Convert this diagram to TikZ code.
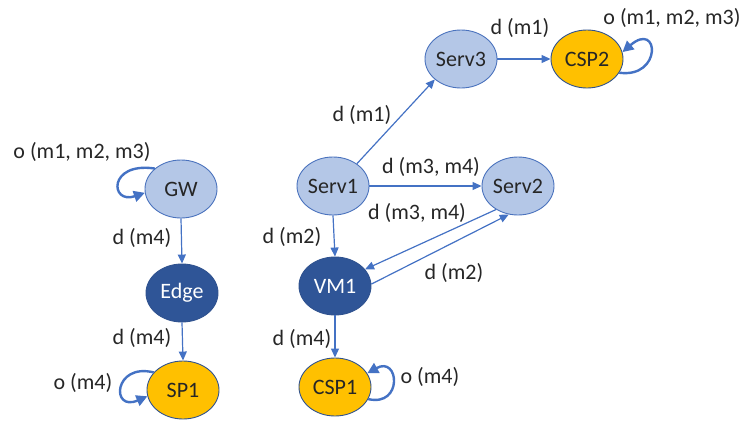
\documentclass[tikz,border=0pt]{standalone}
\usepackage{fontspec}
\setmainfont{Carlito}
\usetikzlibrary{shapes.geometric,arrows.meta}

\definecolor{lightfill}{HTML}{B4C7E7}
\definecolor{darkfill}{HTML}{2F5597}
\definecolor{goldfill}{HTML}{FFC000}
\definecolor{rim}{HTML}{4A72BD}
\definecolor{darkrim}{HTML}{2F528F}
\definecolor{arrowblue}{HTML}{4472C4}
\definecolor{ink}{HTML}{262626}

\tikzset{
  base/.style={ellipse, minimum width=72pt, minimum height=58pt, inner sep=0pt,
               line width=0.9pt, font=\fontsize{22}{26}\selectfont},
  lightnode/.style={base, fill=lightfill, draw=rim, text=ink},
  darknode/.style={base, fill=darkfill, draw=darkrim, text=white},
  goldnode/.style={base, fill=goldfill, draw=darkrim, text=ink},
  flow/.style={draw=arrowblue, line width=1.2pt, -{Triangle[length=9pt,width=8pt]}},
  selfloop/.style={draw=arrowblue, line width=2.4pt, -{Triangle[length=11pt,width=11pt]}},
  tag/.style={text=ink, font=\fontsize{22}{26}\selectfont, inner sep=0pt},
}

\begin{document}
\begin{tikzpicture}[x=1pt, y=-1pt]
  \useasboundingbox (0,0) rectangle (745,421);

  % devices on the left
  \node[lightnode] (GW)   at (181,189) {GW};
  \node[darknode]  (Edge) at (182,293) {Edge};
  \node[goldnode]  (SP1)  at (183,390) {SP1};

  % services and providers
  \node[lightnode] (Serv1) at (333,186) {Serv1};
  \node[lightnode] (Serv2) at (518,186) {Serv2};
  \node[lightnode] (Serv3) at (461,59)  {Serv3};
  \node[goldnode]  (CSP2)  at (587,59)  {CSP2};
  \node[darknode]  (VM1)   at (335,286) {VM1};
  \node[goldnode]  (CSP1)  at (335,387) {CSP1};

  % data flows
  \draw[flow] (GW.south) -- (Edge.north);
  \draw[flow] (Edge.south) -- (SP1.north);
  \draw[flow] (Serv1.east) -- (Serv2.west);
  \draw[flow] (Serv1.south) -- (VM1.north);
  \draw[flow] (Serv2.-133) -- (VM1.29);
  \draw[flow] (VM1.3) -- (Serv2.-108);
  \draw[flow] (Serv1.43) -- (Serv3.218);
  \draw[flow] (Serv3.east) -- (CSP2.west);
  \draw[flow] (VM1.south) -- (CSP1.north);

  % own-use loops
  \draw[selfloop] (GW.142) .. controls +(-47,-7) and +(-35,12) .. (GW.186);
  \draw[selfloop] (SP1.149) .. controls +(-40,-10) and +(-37,16) .. (SP1.190);
  \draw[selfloop] (CSP2.-23) .. controls +(43,6) and +(37,-32) .. (CSP2.11);
  \draw[selfloop] (CSP1.-20) .. controls +(35,8) and +(32,-18) .. (CSP1.23);

  % flow labels
  \node[tag] (tGW)   at (82,152)  {o (m1, m2, m3)};
  \node[tag] (tGE)   at (142,238) {d (m4)};
  \node[tag] (tES)   at (142,338) {d (m4)};
  \node[tag] (tSP)   at (83,383)  {o (m4)};
  \node[tag] (tS12)  at (431,167) {d (m3, m4)};
  \node[tag] (tS1V)  at (292,237) {d (m2)};
  \node[tag] (tS2V)  at (417,213) {d (m3, m4)};
  \node[tag] (tVS2)  at (454,273) {d (m2)};
  \node[tag] (tS13)  at (362,115) {d (m1)};
  \node[tag] (tS3C)  at (520,28)  {d (m1)};
  \node[tag] (tCSP2) at (672,18)  {o (m1, m2, m3)};
  \node[tag] (tVC)   at (302,339) {d (m4)};
  \node[tag] (tCSP1) at (430,377) {o (m4)};
\end{tikzpicture}
\end{document}
